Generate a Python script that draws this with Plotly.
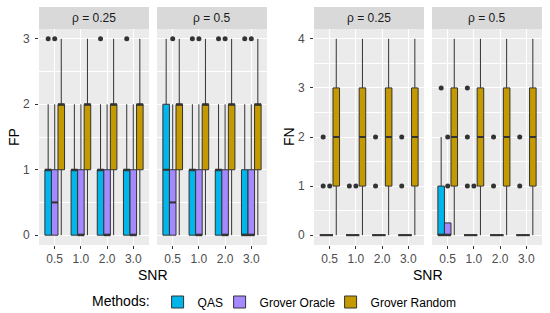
import plotly.graph_objects as go

# ---------------- data ----------------
snr_labels = ["0.5", "1.0", "2.0", "3.0"]
methods = ["QAS", "Grover Oracle", "Grover Random"]
colors = {"QAS": "#00B6EB", "Grover Oracle": "#A58AFF", "Grover Random": "#C49A00"}
rho_labels = ["ρ = 0.25", "ρ = 0.5"]

# box statistics per SNR: q1, median, q3, lower whisker, upper whisker, outliers
# ---- FP, rho = 0.25
fp25_qas = dict(q1=[0, 0, 0, 0], med=[1, 1, 1, 1], q3=[1, 1, 1, 1], lo=[0, 0, 0, 0], hi=[2, 2, 2, 2],
                out=[[3], [], [3], [3]])
fp25_orc = dict(q1=[0, 0, 0, 0], med=[0.5, 0, 0, 0], q3=[1, 1, 1, 1], lo=[0, 0, 0, 0], hi=[2, 2, 2, 2],
                out=[[3], [], [], []])
fp25_rnd = dict(q1=[1, 1, 1, 1], med=[2, 2, 2, 2], q3=[2, 2, 2, 2], lo=[0, 0, 0, 0], hi=[3, 3, 3, 3],
                out=[[], [], [], []])
# ---- FP, rho = 0.5
fp50_qas = dict(q1=[0, 0, 0, 0], med=[1, 1, 1, 0], q3=[2, 1, 1, 1], lo=[0, 0, 0, 0], hi=[3, 2, 2, 2],
                out=[[], [3], [3], [3]])
fp50_orc = dict(q1=[0, 0, 0, 0], med=[0.5, 0, 0, 0], q3=[1, 1, 1, 1], lo=[0, 0, 0, 0], hi=[2, 2, 2, 2],
                out=[[3], [3], [3], [3]])
fp50_rnd = dict(q1=[1, 1, 1, 1], med=[2, 2, 2, 2], q3=[2, 2, 2, 2], lo=[0, 0, 0, 0], hi=[3, 3, 3, 3],
                out=[[], [], [], []])
# ---- FN, rho = 0.25
fn25_qas = dict(q1=[0, 0, 0, 0], med=[0, 0, 0, 0], q3=[0, 0, 0, 0], lo=[0, 0, 0, 0], hi=[0, 0, 0, 0],
                out=[[1, 2], [1], [1, 2], [1, 2]])
fn25_orc = dict(q1=[0, 0, 0, 0], med=[0, 0, 0, 0], q3=[0, 0, 0, 0], lo=[0, 0, 0, 0], hi=[0, 0, 0, 0],
                out=[[1], [1], [], []])
fn25_rnd = dict(q1=[1, 1, 1, 1], med=[2, 2, 2, 2], q3=[3, 3, 3, 3], lo=[0, 0, 0, 0], hi=[4, 4, 4, 4],
                out=[[], [], [], []])
# ---- FN, rho = 0.5
fn50_qas = dict(q1=[0, 0, 0, 0], med=[0, 0, 0, 0], q3=[1, 0, 0, 0], lo=[0, 0, 0, 0], hi=[2, 0, 0, 0],
                out=[[3], [1, 2, 3], [1, 2], [1, 2]])
fn50_orc = dict(q1=[0, 0, 0, 0], med=[0, 0, 0, 0], q3=[0.25, 0, 0, 0], lo=[0, 0, 0, 0], hi=[0.25, 0, 0, 0],
                out=[[1, 2], [1], [], []])
fn50_rnd = dict(q1=[1, 1, 1, 1], med=[2, 2, 2, 2], q3=[3, 3, 3, 3], lo=[0, 0, 0, 0], hi=[4, 4, 4, 4],
                out=[[], [], [], []])

panels = [
    ("x", "y", [fp25_qas, fp25_orc, fp25_rnd], 0),
    ("x2", "y2", [fp50_qas, fp50_orc, fp50_rnd], 1),
    ("x3", "y3", [fn25_qas, fn25_orc, fn25_rnd], 0),
    ("x4", "y4", [fn50_qas, fn50_orc, fn50_rnd], 1),
]

# ---------------- layout geometry (pixels) ----------------
W, H = 550, 313
panel_x = [(39, 149), (157, 267), (314, 424), (432, 542)]
panel_top, panel_bot = 29, 245
strip_top = 7
BOX_W = 0.25
dodge = [-BOX_W, 0.0, BOX_W]
legend_entry_w = {"QAS": 17, "Grover Oracle": 66, "Grover Random": None}

def px_x(p):
    return p / W

def px_y(p):
    return 1 - p / H

FONT = "Liberation Sans, Arial, sans-serif"
LINE = "#333333"

fig = go.Figure()

cats = list(range(1, len(snr_labels) + 1))

for pi, (xa, ya, stats, ri) in enumerate(panels):
    for mi, (m, st) in enumerate(zip(methods, stats)):
        pos = [c + dodge[mi] for c in cats]
        box_kw = {}
        if pi == 0 and legend_entry_w[m] is not None:
            box_kw["legendwidth"] = legend_entry_w[m]
        fig.add_trace(go.Box(
            x=pos, q1=st["q1"], median=st["med"], q3=st["q3"],
            lowerfence=st["lo"], upperfence=st["hi"],
            width=BOX_W, whiskerwidth=0, boxpoints=False,
            fillcolor=colors[m], line=dict(color=LINE, width=1),
            name=m, legendgroup=m, showlegend=(pi == 0),
            xaxis=xa, yaxis=ya, hoverinfo="skip", **box_kw,
        ))
        # thicker median segments (ggplot fatten)
        mx, my = [], []
        for p, md in zip(pos, st["med"]):
            mx += [p - BOX_W / 2, p + BOX_W / 2, None]
            my += [md, md, None]
        fig.add_trace(go.Scatter(
            x=mx, y=my, mode="lines", line=dict(color=LINE, width=2),
            showlegend=False, xaxis=xa, yaxis=ya, hoverinfo="skip",
        ))
        # outliers
        ox, oy = [], []
        for p, outs in zip(pos, st["out"]):
            for v in outs:
                ox.append(p)
                oy.append(v)
        if ox:
            fig.add_trace(go.Scatter(
                x=ox, y=oy, mode="markers",
                marker=dict(color=LINE, size=5),
                showlegend=False, xaxis=xa, yaxis=ya, hoverinfo="skip",
            ))

layout = dict(
    width=W, height=H,
    margin=dict(l=0, r=0, t=0, b=0, autoexpand=False),
    paper_bgcolor="white", plot_bgcolor="#EBEBEB",
    font=dict(family=FONT, size=12, color="#000000"),
    showlegend=True,
    legend=dict(
        orientation="h", x=px_x(90), xanchor="left", y=px_y(302), yanchor="middle",
        title=dict(text="Methods:", font=dict(size=14, color="#000000"), side="left"),
        font=dict(size=12, color="#000000"),
        bgcolor="rgba(0,0,0,0)", itemclick=False,
    ),
)

y_ranges = [[-0.15, 3.15], [-0.15, 3.15], [-0.2, 4.2], [-0.2, 4.2]]
for pi, (x0, x1) in enumerate(panel_x):
    sfx = "" if pi == 0 else str(pi + 1)
    layout["xaxis" + sfx] = dict(
        domain=[px_x(x0), px_x(x1)], anchor="y" + sfx, automargin=False,
        range=[0.4, len(snr_labels) + 0.6],
        tickmode="array", tickvals=cats, ticktext=snr_labels,
        ticks="outside", ticklen=3, tickwidth=1, tickcolor=LINE,
        tickfont=dict(size=12, color="#4D4D4D"),
        showgrid=True, gridcolor="white", gridwidth=1,
        zeroline=False, showline=False, fixedrange=True,
    )
    show_y = pi in (0, 2)
    layout["yaxis" + sfx] = dict(
        domain=[px_y(panel_bot), px_y(panel_top)], anchor="x" + sfx, automargin=False,
        range=y_ranges[pi],
        tickmode="linear", tick0=0, dtick=1,
        ticks="outside" if show_y else "", ticklen=3, tickwidth=1, tickcolor=LINE,
        showticklabels=show_y, ticklabelstandoff=3,
        tickfont=dict(size=12, color="#4D4D4D"),
        showgrid=True, gridcolor="white", gridwidth=1,
        minor=dict(dtick=0.5, tick0=0, showgrid=True, gridcolor="white", gridwidth=0.5, ticks=""),
        zeroline=False, showline=False, fixedrange=True,
    )

shapes = []
annotations = []
for pi, (x0, x1) in enumerate(panel_x):
    ri = panels[pi][3]
    shapes.append(dict(type="rect", xref="paper", yref="paper",
                       x0=px_x(x0), x1=px_x(x1), y0=px_y(panel_top), y1=px_y(strip_top),
                       fillcolor="#D9D9D9", line=dict(width=0), layer="below"))
    annotations.append(dict(text=rho_labels[ri], xref="paper", yref="paper",
                            x=px_x((x0 + x1) / 2), y=px_y((strip_top + panel_top) / 2),
                            xanchor="center", yanchor="middle", showarrow=False,
                            font=dict(size=12, color="#1A1A1A")))

# axis titles
annotations.append(dict(text="FP", xref="paper", yref="paper", x=px_x(14), y=px_y(137),
                        textangle=-90, showarrow=False, xanchor="center", yanchor="middle",
                        font=dict(size=14, color="#000000")))
annotations.append(dict(text="FN", xref="paper", yref="paper", x=px_x(289), y=px_y(137),
                        textangle=-90, showarrow=False, xanchor="center", yanchor="middle",
                        font=dict(size=14, color="#000000")))
annotations.append(dict(text="SNR", xref="paper", yref="paper", x=px_x(153), y=px_y(275),
                        showarrow=False, xanchor="center", yanchor="middle",
                        font=dict(size=14, color="#000000")))
annotations.append(dict(text="SNR", xref="paper", yref="paper", x=px_x(428), y=px_y(275),
                        showarrow=False, xanchor="center", yanchor="middle",
                        font=dict(size=14, color="#000000")))

layout["shapes"] = shapes
layout["annotations"] = annotations
fig.update_layout(**layout)

fig.write_html("out.html", config={"displayModeBar": False},
               post_script="document.body.style.margin='0px';document.body.style.overflow='hidden';")
